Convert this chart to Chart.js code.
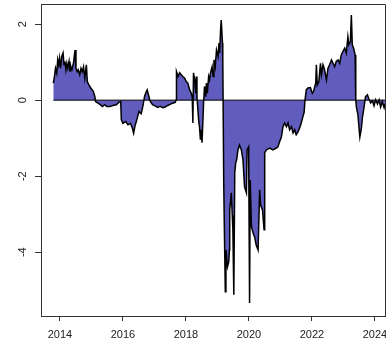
<!DOCTYPE html>
<html>
<head>
<meta charset="utf-8">
<script src="https://cdn.jsdelivr.net/npm/chart.js@4.4.1/dist/chart.umd.min.js"></script>
<style>
  html, body { margin: 0; padding: 0; background: #ffffff; overflow: hidden; }
  canvas { display: block; }
</style>
</head>
<body>
<canvas id="c" width="386" height="346"></canvas>
<script>
// Time axis in decimal years
const years = [
  // 2013.8 - 2015.1
  2013.79, 2013.82, 2013.86, 2013.90, 2013.93, 2013.96, 2013.99, 2014.02, 2014.06, 2014.10,
  2014.13, 2014.16, 2014.19, 2014.22, 2014.25, 2014.29, 2014.32, 2014.35, 2014.38, 2014.43,
  2014.48, 2014.51, 2014.55, 2014.58, 2014.63, 2014.67, 2014.71, 2014.75, 2014.79, 2014.84,
  2014.87, 2014.92, 2014.98, 2015.06, 2015.11,
  // 2015.1 - 2017.7
  2015.13, 2015.21, 2015.28, 2015.35, 2015.42, 2015.49, 2015.58, 2015.68, 2015.79, 2015.87,
  2015.93, 2015.95, 2016.00, 2016.09, 2016.16, 2016.24, 2016.30, 2016.34, 2016.38, 2016.44,
  2016.51, 2016.58, 2016.63, 2016.69, 2016.74, 2016.77, 2016.82, 2016.86, 2016.94, 2017.02,
  2017.10, 2017.18, 2017.26, 2017.34, 2017.42, 2017.50, 2017.58, 2017.66, 2017.69,
  // 2017.7 - 2019.2
  2017.70, 2017.75, 2017.80, 2017.85, 2017.90, 2017.96, 2018.01, 2018.06, 2018.12, 2018.17,
  2018.20, 2018.22, 2018.24, 2018.28, 2018.31, 2018.33, 2018.35, 2018.38, 2018.41, 2018.43,
  2018.46, 2018.49, 2018.51, 2018.54, 2018.56, 2018.59, 2018.63, 2018.65, 2018.68, 2018.72,
  2018.75, 2018.78, 2018.83, 2018.86, 2018.89, 2018.93, 2018.97, 2019.02, 2019.05, 2019.07,
  2019.10, 2019.12, 2019.16, 2019.17,
  // 2019.2 - 2020.5
  2019.20, 2019.22, 2019.25, 2019.27, 2019.29, 2019.32, 2019.36, 2019.38, 2019.39, 2019.44,
  2019.47, 2019.49, 2019.52, 2019.55, 2019.58, 2019.61, 2019.65, 2019.70, 2019.76, 2019.81,
  2019.86, 2019.92, 2019.94, 2019.99, 2020.02, 2020.04, 2020.08, 2020.13, 2020.18, 2020.23,
  2020.29, 2020.34, 2020.37, 2020.43, 2020.48,
  // 2020.5 - 2024.3
  2020.50, 2020.55, 2020.66, 2020.76, 2020.87, 2020.92, 2020.97, 2021.03, 2021.08, 2021.13,
  2021.19, 2021.24, 2021.29, 2021.35, 2021.40, 2021.45, 2021.50, 2021.56, 2021.61, 2021.66,
  2021.71, 2021.75, 2021.78, 2021.82, 2021.87, 2021.95, 2022.01, 2022.05, 2022.12, 2022.14,
  2022.17, 2022.22, 2022.27, 2022.30, 2022.35, 2022.40, 2022.46, 2022.51, 2022.56, 2022.62,
  2022.67, 2022.72, 2022.77, 2022.83, 2022.88, 2022.93, 2022.98, 2023.04, 2023.09, 2023.14,
  2023.17, 2023.22, 2023.25, 2023.28, 2023.32, 2023.37, 2023.39, 2023.41, 2023.46, 2023.49,
  2023.52, 2023.57, 2023.60, 2023.65, 2023.70, 2023.76, 2023.81, 2023.86, 2023.92, 2023.97,
  2024.02, 2024.08, 2024.13, 2024.18, 2024.23, 2024.29, 2024.32
];

// Series values at each time point
const values = [
  // 2013.8 - 2015.1
   0.45,  0.58,  0.84,  0.71,  1.06,  0.93,  1.11,  0.84,  1.15,  1.24,
   0.93,  1.02,  0.80,  0.97,  0.84,  1.02,  0.75,  0.88,  0.80,  0.97,
   1.32,  0.84,  0.75,  0.80,  0.67,  0.84,  0.75,  0.88,  0.58,  0.93,
   0.49,  0.40,  0.32,  0.23,  0.09,
  // 2015.1 - 2017.7
  -0.04, -0.08, -0.12, -0.17, -0.12, -0.17, -0.17, -0.14, -0.12, -0.06,
  -0.04, -0.52, -0.61, -0.56, -0.65, -0.61, -0.74, -0.87, -0.69, -0.52,
  -0.30, -0.36, -0.17,  0.11,  0.22,  0.27,  0.11, -0.02, -0.12, -0.15,
  -0.19, -0.16, -0.20, -0.18, -0.14, -0.11, -0.08, -0.06,  0.01,
  // 2017.7 - 2019.2
   0.75,  0.62,  0.72,  0.67,  0.62,  0.58,  0.49,  0.45,  0.27,  0.18,
   0.09, -0.60,  0.72,  0.53,  0.18,  0.62,  0.09, -0.26, -0.60, -0.69,
  -1.04, -0.78, -1.12, -0.52, -0.07,  0.36,  0.09,  0.45,  0.18,  0.62,
   0.53,  0.72,  0.88,  0.62,  1.06,  0.88,  1.32,  1.15,  1.50,  1.24,
   1.85,  2.11,  1.50,  1.06,
  // 2019.2 - 2020.5
  -2.18, -3.41, -5.04, -3.94, -4.12, -4.38, -4.25, -3.94, -2.89, -2.44,
  -3.02, -3.41, -5.12, -1.91, -1.65, -1.57, -1.31, -1.18, -1.31, -1.57,
  -2.28, -2.44, -1.31, -1.23, -5.34, -2.10, -3.33, -3.49, -3.60, -3.81,
  -3.94, -2.36, -2.76, -2.89, -3.41,
  // 2020.5 - 2024.3
  -1.39, -1.31, -1.26, -1.31, -1.26, -1.23, -1.10, -0.97, -0.70, -0.60,
  -0.70, -0.60, -0.78, -0.70, -0.86, -0.78, -0.91, -0.83, -0.73, -0.60,
  -0.44, -0.33,  0.01,  0.27,  0.32,  0.33,  0.18,  0.23,  0.45,  0.93,
   0.40,  0.49,  0.97,  0.67,  0.93,  0.80,  0.53,  0.84,  0.93,  1.06,
   0.97,  0.88,  1.02,  1.06,  0.97,  1.19,  1.28,  1.37,  1.24,  1.67,
   1.46,  1.54,  2.24,  1.46,  1.37,  1.19,  0.01, -0.18, -0.39, -0.70,
  -0.97, -0.73, -0.47, -0.20,  0.09,  0.14,  0.03, -0.07, -0.02, -0.15,
   0.01, -0.10,  0.01, -0.18, -0.04, -0.20, -0.10
];

const xTicks = [2014, 2016, 2018, 2020, 2022, 2024];
const yTicks = [-4, -2, 0, 2];

const seriesPoints = years.map((x, i) => ({ x: x, y: values[i] }));
const baseline = [
  { x: years[0], y: 0 },
  { x: years[years.length - 1], y: 0 }
];

const axisColor = '#333333';
const labelFont = { family: '"Liberation Sans", Arial, sans-serif', size: 11 };

// Closes the plot frame along the top and right edges
const frame = {
  id: 'frame',
  afterDraw(chart) {
    const { ctx, chartArea: a } = chart;
    ctx.save();
    ctx.strokeStyle = axisColor;
    ctx.lineWidth = 1;
    ctx.beginPath();
    ctx.moveTo(a.left, a.top + 0.5);
    ctx.lineTo(a.right - 0.5, a.top + 0.5);
    ctx.lineTo(a.right - 0.5, a.bottom);
    ctx.stroke();
    ctx.restore();
  }
};

new Chart(document.getElementById('c'), {
  type: 'line',
  data: {
    datasets: [
      {
        data: seriesPoints,
        borderColor: '#000000',
        borderWidth: 1.5,
        backgroundColor: 'rgb(96, 93, 190)',
        fill: 'origin',
        pointRadius: 0,
        tension: 0,
        order: 2
      },
      {
        data: baseline,
        borderColor: '#000000',
        borderWidth: 1,
        fill: false,
        pointRadius: 0,
        order: 1
      }
    ]
  },
  options: {
    responsive: false,
    animation: false,
    devicePixelRatio: 1,
    layout: { padding: { top: 4, left: 0, right: 0, bottom: 0 } },
    plugins: { legend: { display: false }, tooltip: { enabled: false } },
    scales: {
      x: {
        type: 'linear',
        min: 2013.40,
        max: 2024.35,
        afterBuildTicks(scale) { scale.ticks = xTicks.map(v => ({ value: v })); },
        afterFit(scale) {
          scale.height = 30;
          scale.paddingLeft = 0;
          scale.paddingRight = 0;
        },
        grid: {
          drawOnChartArea: false,
          drawTicks: true,
          tickLength: 5,
          tickColor: axisColor,
          color: axisColor
        },
        border: { display: true, color: axisColor, width: 1 },
        ticks: {
          color: '#222222',
          font: labelFont,
          padding: 7,
          maxRotation: 0,
          minRotation: 0,
          autoSkip: false,
          callback: v => String(v)
        }
      },
      y: {
        type: 'linear',
        min: -5.68,
        max: 2.53,
        afterBuildTicks(scale) { scale.ticks = yTicks.map(v => ({ value: v })); },
        afterFit(scale) {
          scale.width = 41;
          scale.paddingTop = 0;
          scale.paddingBottom = 0;
        },
        grid: {
          drawOnChartArea: false,
          drawTicks: true,
          tickLength: 6,
          tickColor: axisColor,
          color: axisColor
        },
        border: { display: true, color: axisColor, width: 1 },
        ticks: {
          color: '#222222',
          font: labelFont,
          padding: 7,
          minRotation: 90,
          maxRotation: 90,
          crossAlign: 'center',
          autoSkip: false,
          callback: v => String(v)
        }
      }
    }
  },
  plugins: [frame]
});
</script>
</body>
</html>
